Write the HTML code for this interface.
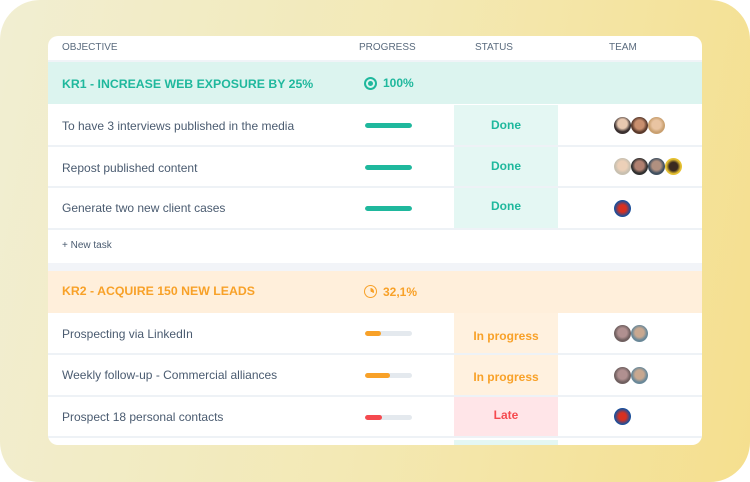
<!DOCTYPE html><html><head><style>
*{margin:0;padding:0;box-sizing:border-box}
body{width:750px;height:482px;background:#fff;font-family:"Liberation Sans",sans-serif;position:relative;overflow:hidden}
.bg{position:absolute;left:0;top:0;width:750px;height:482px;border-radius:40px;background:linear-gradient(100deg,#f1eed2 0%,#f3e9b5 50%,#f5df8e 100%)}
.card{position:absolute;left:48px;top:36px;width:654px;height:409px;background:#fff;border-radius:10px;overflow:hidden}
.a{position:absolute}
.hd{font-size:10px;color:#5a6b7e;top:6px}
.band{position:absolute;left:0;width:654px;height:42px}
.kr{position:absolute;left:14px;font-size:12.3px;font-weight:bold;top:15px}
.row{position:absolute;left:0;width:654px;border-bottom:2px solid #eef2f6}
.t{position:absolute;left:14px;font-size:12px;color:#4a5b70}
.bar{position:absolute;left:317px;width:47px;height:5px;border-radius:3px;background:#e4e9ee;overflow:hidden}
.bar i{display:block;height:5px;border-radius:3px}
.st{position:absolute;left:406px;width:104px;font-size:12px;font-weight:bold;text-align:center}
.av{position:absolute;width:17px;height:17px;border-radius:50%}
</style></head><body>
<div class="bg"></div>
<div class="card">
<div class="a hd" style="left:14px">OBJECTIVE</div>
<div class="a hd" style="left:311px">PROGRESS</div>
<div class="a hd" style="left:427px">STATUS</div>
<div class="a hd" style="left:561px">TEAM</div>
<div class="a" style="left:0;top:24px;width:654px;height:2px;background:#f0f3f7"></div>
<div class="band" style="top:26px;background:#dcf4ef"><div class="kr" style="color:#1fb89d">KR1 - INCREASE WEB EXPOSURE BY 25%</div>
<div class="a" style="left:316px;top:15px;width:13px;height:13px;border:2px solid #1fb89d;border-radius:50%"><div style="margin:2px;width:5px;height:5px;border-radius:50%;background:#1fb89d"></div></div>
<div class="a" style="left:335px;top:14px;font-size:12px;font-weight:bold;color:#1fb89d">100%</div></div>

<div class="row" style="top:69px;height:42px"><div class="t" style="top:14px">To have 3 interviews published in the media</div><div class="bar" style="top:18px"><i style="width:100%;background:#1fb89d"></i></div><div class="st" style="top:0;height:40px;line-height:40px;background:#e4f7f3;color:#1fb89d">Done</div></div>
<div class="row" style="top:111px;height:41px"><div class="t" style="top:14px">Repost published content</div><div class="bar" style="top:18px"><i style="width:100%;background:#1fb89d"></i></div><div class="st" style="top:0;height:39px;line-height:39px;background:#e4f7f3;color:#1fb89d">Done</div></div>
<div class="row" style="top:152px;height:42px"><div class="t" style="top:13px">Generate two new client cases</div><div class="bar" style="top:18px"><i style="width:100%;background:#1fb89d"></i></div><div class="st" style="top:0;height:40px;line-height:36px;background:#e4f7f3;color:#1fb89d">Done</div></div>
<div class="a" style="left:14px;top:204px;font-size:10px;color:#4a5b70">+ New task</div>
<div class="a" style="left:0;top:227px;width:654px;height:8px;background:#f2f4f8"></div>
<div class="band" style="top:235px;background:#ffefdb"><div class="kr" style="color:#f8a128;top:13px">KR2 - ACQUIRE 150 NEW LEADS</div>
<div class="a" style="left:316px;top:14px;width:13px;height:13px;border:1.5px solid #f8a128;border-radius:50%;background:conic-gradient(#f8a128 0 32%,transparent 32%);background-clip:content-box;padding:2px"></div>
<div class="a" style="left:335px;top:14px;font-size:12px;font-weight:bold;color:#f8a128">32,1%</div></div>
<div class="row" style="top:277px;height:42px"><div class="t" style="top:14px">Prospecting via LinkedIn</div><div class="bar" style="top:18px"><i style="width:33%;background:#f8a128"></i></div><div class="st" style="top:0;height:40px;line-height:46px;background:#fff1df;color:#f8a128">In progress</div></div>
<div class="row" style="top:319px;height:42px"><div class="t" style="top:13px">Weekly follow-up - Commercial alliances</div><div class="bar" style="top:18px"><i style="width:53%;background:#f8a128"></i></div><div class="st" style="top:0;height:40px;line-height:44px;background:#fff1df;color:#f8a128">In progress</div></div>
<div class="row" style="top:361px;height:41px"><div class="t" style="top:13px">Prospect 18 personal contacts</div><div class="bar" style="top:18px"><i style="width:36%;background:#f54a4f"></i></div><div class="st" style="top:0;height:39px;line-height:36px;background:#ffe5e8;color:#f54a4f">Late</div></div>
<div class="a" style="left:406px;top:404px;width:104px;height:6px;background:#e4f7f3"></div>

<div class="av" style="left:566px;top:81px;background:radial-gradient(circle at 50% 40%,#e8c8b0 35%,#3a3030 60%)"></div>
<div class="av" style="left:583px;top:81px;background:radial-gradient(circle at 50% 45%,#c98f6e 35%,#5a3a2c 60%)"></div>
<div class="av" style="left:600px;top:81px;background:radial-gradient(circle at 50% 45%,#e9c4a2 35%,#c9a070 60%)"></div>
<div class="av" style="left:566px;top:122px;background:radial-gradient(circle at 50% 45%,#ecd0b8 35%,#c8c0b0 60%)"></div>
<div class="av" style="left:583px;top:122px;background:radial-gradient(circle at 50% 45%,#b08070 35%,#303030 60%)"></div>
<div class="av" style="left:600px;top:122px;background:radial-gradient(circle at 50% 45%,#b09080 35%,#405060 60%)"></div>
<div class="av" style="left:617px;top:122px;background:radial-gradient(circle at 50% 50%,#3a2a20 35%,#e5c030 60%)"></div>
<div class="av" style="left:566px;top:164px;background:radial-gradient(circle at 50% 50%,#d83020 30%,#1a4f9a 65%)"></div>
<div class="av" style="left:566px;top:289px;background:radial-gradient(circle at 50% 45%,#b09090 35%,#706060 60%)"></div>
<div class="av" style="left:583px;top:289px;background:radial-gradient(circle at 50% 45%,#c8a890 35%,#6a8898 60%)"></div>
<div class="av" style="left:566px;top:331px;background:radial-gradient(circle at 50% 45%,#b09090 35%,#706060 60%)"></div>
<div class="av" style="left:583px;top:331px;background:radial-gradient(circle at 50% 45%,#c8a890 35%,#6a8898 60%)"></div>
<div class="av" style="left:566px;top:372px;background:radial-gradient(circle at 50% 50%,#d83020 30%,#1a4f9a 65%)"></div>
</div>
</body></html>
